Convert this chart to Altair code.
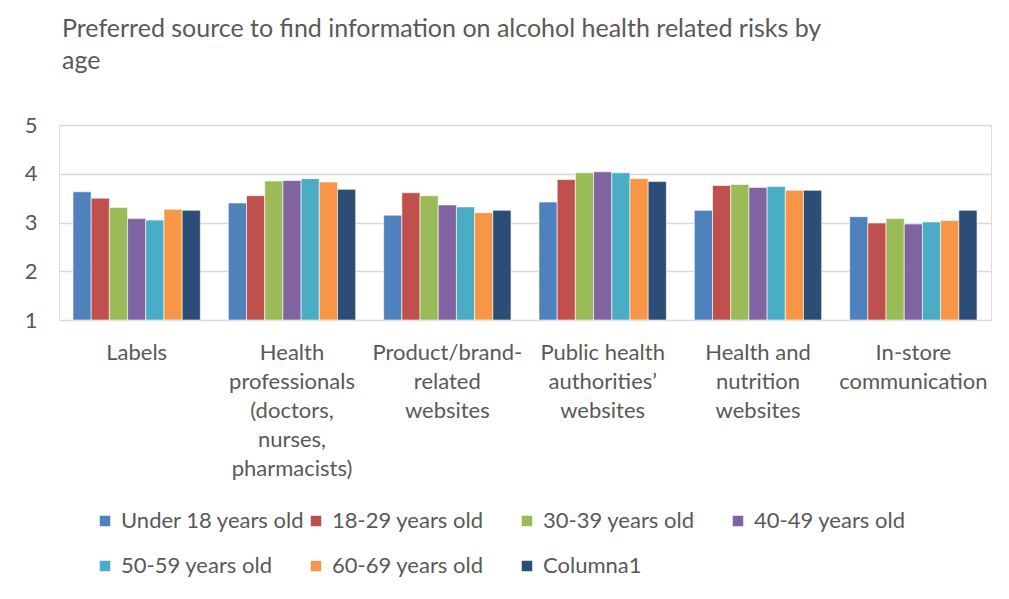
import altair as alt
import pandas as pd

categories = [
    "Labels",
    "Health\nprofessionals\n(doctors,\nnurses,\npharmacists)",
    "Product/brand-\nrelated\nwebsites",
    "Public health\nauthorities’\nwebsites",
    "Health and\nnutrition\nwebsites",
    "In-store\ncommunication",
]
series = [
    "Under 18 years old", "18-29 years old", "30-39 years old", "40-49 years old",
    "50-59 years old", "60-69 years old", "Columna1",
]
colors = ["#4F81BD", "#C0504D", "#9BBB59", "#8064A2", "#4BACC6", "#F79646", "#2C4D75"]

under18 = [3.63, 3.40, 3.15, 3.42, 3.25, 3.12]
age18_29 = [3.50, 3.55, 3.61, 3.88, 3.76, 2.99]
age30_39 = [3.31, 3.85, 3.55, 4.02, 3.78, 3.08]
age40_49 = [3.08, 3.86, 3.36, 4.04, 3.72, 2.97]
age50_59 = [3.05, 3.90, 3.32, 4.02, 3.74, 3.01]
age60_69 = [3.27, 3.83, 3.20, 3.90, 3.66, 3.04]
columna1 = [3.25, 3.68, 3.25, 3.84, 3.66, 3.25]

values = [under18, age18_29, age30_39, age40_49, age50_59, age60_69, columna1]
rows = []
for s, vals in zip(series, values):
    for c, v in zip(categories, vals):
        rows.append({"category": c, "series": s, "value": v})
df = pd.DataFrame(rows)

FONT = "Lato"
GREY = "#595959"

chart = alt.Chart(df).transform_calculate(base="1").mark_bar(
    stroke="white", strokeWidth=0.6
).encode(
    x=alt.X("category:N", sort=categories,
            scale=alt.Scale(paddingInner=0.18, paddingOuter=0.09),
            axis=alt.Axis(title=None, labelAngle=0, ticks=False, domain=False,
                          labelExpr="split(datum.label, '\\n')",
                          labelFont=FONT, labelFontSize=22, labelColor=GREY,
                          labelLineHeight=29, labelPadding=22, labelLimit=300)),
    xOffset=alt.XOffset("series:N", sort=series,
                        scale=alt.Scale(paddingInner=0, paddingOuter=0)),
    y=alt.Y("value:Q", scale=alt.Scale(domain=[1, 5], zero=False, nice=False),
            axis=alt.Axis(title=None, values=[1, 2, 3, 4, 5], ticks=False, tickSize=0,
                          domain=False, labelFont=FONT, labelFontSize=22,
                          labelColor=GREY, labelPadding=22,
                          gridColor="#D9D9D9", gridWidth=1.3)),
    y2="base:Q",
    color=alt.Color("series:N", sort=series,
                    scale=alt.Scale(domain=series, range=colors),
                    legend=alt.Legend(title=None, orient="none", legendX=35, legendY=385,
                                      direction="horizontal",
                                      columns=4, gridAlign="all", columnPadding=0,
                                      rowPadding=23, symbolType="square", symbolSize=110,
                                      symbolStrokeWidth=0, labelOffset=5,
                                      labelFont=FONT, labelFontSize=22, labelColor=GREY,
                                      labelLimit=400, padding=0)),
).properties(
    width=932,
    height=195,
    title=alt.TitleParams(
        text=["Preferred source to find information on alcohol health related risks by", "age"],
        anchor="start", frame="group", font=FONT, fontSize=25, fontWeight="normal",
        color=GREY, lineHeight=32, offset=40, dx=3,
    ),
    autosize=alt.AutoSizeParams(type="none"),
    padding={"left": 51, "top": 117, "right": 10, "bottom": 271},
).configure_view(stroke=None).configure(background="white")

chart.save("out.html", embed_options={"renderer": "svg", "actions": False})
